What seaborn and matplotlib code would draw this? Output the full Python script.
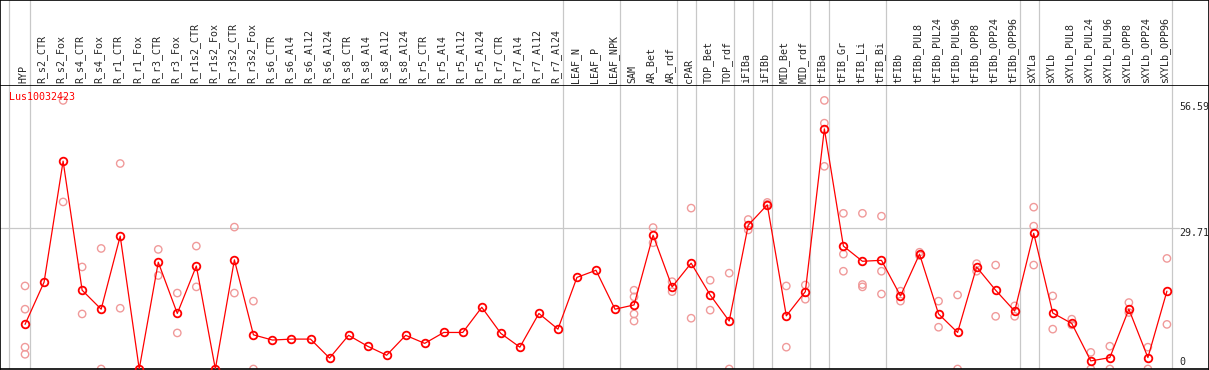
import matplotlib
matplotlib.use("Agg")
import matplotlib.pyplot as plt
import seaborn as sns
import pandas as pd

gene = "Lus10032423"

samples = ["HYP", "R_s2_CTR", "R_s2_Fox", "R_s4_CTR", "R_s4_Fox", "R_r1_CTR", "R_r1_Fox",
           "R_r3_CTR", "R_r3_Fox", "R_r1s2_CTR", "R_r1s2_Fox", "R_r3s2_CTR", "R_r3s2_Fox",
           "R_s6_CTR", "R_s6_Al4", "R_s6_Al12", "R_s6_Al24", "R_s8_CTR", "R_s8_Al4",
           "R_s8_Al12", "R_s8_Al24", "R_r5_CTR", "R_r5_Al4", "R_r5_Al12", "R_r5_Al24",
           "R_r7_CTR", "R_r7_Al4", "R_r7_Al12", "R_r7_Al24", "LEAF_N", "LEAF_P", "LEAF_NPK",
           "SAM", "AR_Bet", "AR_rdf", "cPAR", "TOP_Bet", "TOP_rdf", "iFIBa", "iFIBb",
           "MID_Bet", "MID_rdf", "tFIBa", "tFIB_Gr", "tFIB_Li", "tFIB_Bi", "tFIBb",
           "tFIBb_PUL8", "tFIBb_PUL24", "tFIBb_PUL96", "tFIBb_OPP8", "tFIBb_OPP24",
           "tFIBb_OPP96", "sXYLa", "sXYLb", "sXYLb_PUL8", "sXYLb_PUL24", "sXYLb_PUL96",
           "sXYLb_OPP8", "sXYLb_OPP24", "sXYLb_OPP96"]

means = [9.4, 18.3, 43.8, 16.6, 12.6, 28.0, 0.0, 22.5, 11.7, 21.7, 0.0, 23.0, 7.2,
         6.1, 6.3, 6.3, 2.3, 7.1, 4.8, 2.9, 7.1, 5.4, 7.7, 7.7, 13.0, 7.5, 4.6, 11.7, 8.4,
         19.3, 20.8, 12.6, 13.5, 28.2, 17.3, 22.3, 15.6, 10.1, 30.3, 34.6, 11.2, 16.3,
         50.6, 25.9, 22.7, 22.9, 15.4, 24.2, 11.6, 7.7, 21.5, 16.6, 12.2, 28.6, 11.8,
         9.6, 1.7, 2.4, 12.6, 2.4, 16.4]

replicates = [[17.5, 12.6, 4.6, 3.1], [], [56.59, 35.2], [21.5, 11.6], [25.4, 0.0],
              [43.3, 12.8], [], [25.2, 19.7], [16.0, 7.6], [25.9, 17.3], [],
              [29.9, 16.0], [14.3, 0.0], [], [], [], [], [], [], [], [], [], [], [], [],
              [], [], [], [], [], [], [],
              [16.6, 15.2, 11.6, 10.1], [29.8, 26.6], [18.4, 16.3], [33.9, 10.7],
              [18.7, 12.4], [20.2, 0.0], [31.5, 29.3], [35.1, 34.7], [17.5, 4.6],
              [17.7, 14.7], [56.59, 51.8, 42.7], [32.8, 24.2, 20.6], [32.8, 17.8, 17.3],
              [32.2, 20.6, 15.8], [16.4, 14.3], [24.6, 23.9], [14.3, 8.8], [15.6, 0.0],
              [22.2, 20.6], [21.9, 11.1], [13.3, 11.1], [34.1, 30.1, 21.9], [15.4, 8.4],
              [10.5, 9.3], [3.5, 0.0], [4.8, 0.0], [14.0, 11.9], [4.6, 0.0], [23.3, 9.4]]

# group boundaries (gridline drawn after these sample indices)
group_ends = [0, 28, 31, 34, 35, 37, 38, 39, 41, 42, 45, 52, 53, 60]
ytick_vals = [0, 29.71, 56.59]

df = pd.DataFrame({"pos": range(len(samples)), "sample": samples, "mean": means})
rep = pd.DataFrame([(i, v) for i, vals in enumerate(replicates) for v in vals],
                   columns=["pos", "value"])

sns.set_style("white")
plt.rcParams["font.family"] = ["DejaVu Sans Mono"]

W, H = 1209, 370
fig = plt.figure(figsize=(W / 100, H / 100), dpi=100)
xlim = ((1 - 26) / 19, (1208 - 26) / 19)
ymax = (369 - 85) / 4.746

ax = fig.add_axes([0, 1 / H, 1, 284 / H])
hdr = fig.add_axes([0, 285 / H, 1, 85 / H])

grid_x = [-0.84] + [g + 0.26 for g in group_ends]
for a in (ax, hdr):
    a.set_xlim(xlim)
    for gx in grid_x:
        a.axvline(gx, color="#c8c8c8", lw=0.9, zorder=0)
    a.set_xticks([])
    a.set_yticks([])
    for sp in a.spines.values():
        sp.set_color("black")
        sp.set_linewidth(1.2)

ax.set_ylim(0, ymax)
ax.axhline(29.71, xmax=(1178 - 1) / 1207, color="#c8c8c8", lw=0.9, zorder=0)

sns.scatterplot(data=rep, x="pos", y="value", ax=ax, marker="o", s=28,
                facecolor="none", edgecolor="#f09a9a", linewidth=1.0, zorder=2)
sns.lineplot(data=df, x="pos", y="mean", ax=ax, color="red", lw=0.9, marker="o",
             markersize=5.5, markerfacecolor="none", markeredgecolor="red",
             markeredgewidth=1.3, zorder=3)
ax.set_xlabel("")
ax.set_ylabel("")

ax.text(-0.84, 57.3, gene, color="red", fontsize=7.2, ha="left", va="center")
label_y = [1.5, 28.66, 55.2]
for v, ly in zip(ytick_vals, label_y):
    ax.text((1178 - 26) / 19, ly, f"{v:g}", fontsize=7.2, ha="left", va="center")

hdr.set_ylim(85, 0)
for i, s in enumerate(samples):
    hdr.text(i - 0.1, 83, s, rotation=90, fontsize=7.2, ha="center", va="bottom")
hdr.spines["bottom"].set_visible(False)

fig.savefig("out.png", dpi=100)
